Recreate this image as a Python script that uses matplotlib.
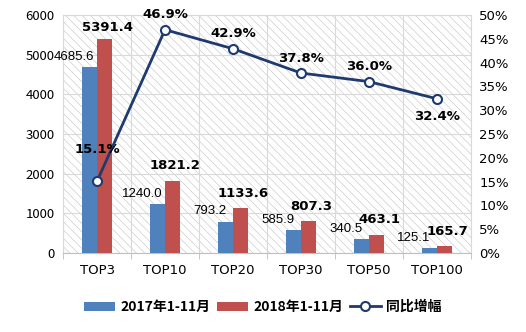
#!/usr/bin/env python3

import numpy as np
from matplotlib import pyplot as plt

plt.rcParams['font.family'] = ['Noto Sans CJK SC', 'DejaVu Sans']
plt.rcParams['hatch.linewidth'] = 0.45

cats = ['TOP3', 'TOP10', 'TOP20', 'TOP30', 'TOP50', 'TOP100']
v2017 = [4685.6, 1240.0, 793.2, 585.9, 340.5, 125.1]
v2018 = [5391.4, 1821.2, 1133.6, 807.3, 463.1, 165.7]
growth = [15.1, 46.9, 42.9, 37.8, 36.0, 32.4]
growth_up = [True, True, True, True, True, False]

lbl_2017 = '2017年1-11月'
lbl_2018 = '2018年1-11月'
lbl_growth = '同比增幅'

blue = '#4F81BD'
red = '#C0504D'
navy = '#1F3A6E'
grid_c = '#D9D9D9'


def main():
    fig = plt.figure(figsize=(5.26, 3.32), dpi=100)
    ax = fig.add_axes([0.12, 0.238, 0.775, 0.717])
    x = np.arange(len(cats))
    w = 0.22

    # hatched background
    ax.add_patch(plt.Rectangle((0, 0), 1, 1, transform=ax.transAxes, facecolor='white',
                               edgecolor='#C8C8C8', hatch='\\\\\\\\', lw=0, zorder=0))

    ax.bar(x - w/2, v2017, w, color=blue, label=lbl_2017, zorder=3)
    ax.bar(x + w/2, v2018, w, color=red, label=lbl_2018, zorder=3)

    for i in range(len(cats)):
        ax.annotate(f'{v2017[i]:.1f}', (x[i] - w/2, v2017[i]), xytext=(-11, 3),
                    textcoords='offset points', ha='center', va='bottom', fontsize=9.5,
                    family=['Liberation Sans', 'DejaVu Sans'], zorder=5)
        dy = 4 if i == 0 else 6
        ax.annotate(f'{v2018[i]:.1f}', (x[i] + w/2, v2018[i]), xytext=(2, dy),
                    textcoords='offset points', ha='center', va='bottom', fontsize=9.5,
                    fontweight='bold', family=['DejaVu Sans'], zorder=5)

    ax.set_xlim(-0.5, len(cats) - 0.5)
    ax.set_ylim(0, 6000)
    ax.set_yticks(np.arange(0, 6001, 1000))
    ax.set_xticks(x)
    ax.set_xticklabels(cats, family=['DejaVu Sans'])
    ax.set_xticks(np.arange(-0.5, len(cats), 1), minor=True)
    ax.tick_params(axis='x', which='major', length=0, pad=8, labelsize=9.5)
    ax.tick_params(axis='x', which='minor', length=4, color='#BFBFBF')
    ax.tick_params(axis='y', length=0, labelsize=9.5, pad=6)
    ax.grid(axis='y', color=grid_c, lw=0.8, zorder=1)
    ax.grid(axis='x', which='minor', color=grid_c, lw=0.8, zorder=1)
    for s in ax.spines.values():
        s.set_color(grid_c)
    ax.spines['bottom'].set_color('#BFBFBF')

    ax2 = ax.twinx()
    ax2.plot(x, growth, color=navy, lw=2, marker='o', ms=6.5, mfc='white', mec=navy,
             mew=1.5, label=lbl_growth, zorder=6)
    for i in range(len(cats)):
        if i == 0:
            off = (0, 18)
            va = 'bottom'
        elif growth_up[i]:
            off = (0, 6)
            va = 'bottom'
        else:
            off = (0, -8)
            va = 'top'
        ax2.annotate(f'{growth[i]:.1f}%', (x[i], growth[i]), xytext=off,
                     textcoords='offset points', ha='center', va=va, fontsize=9.5,
                     fontweight='bold', family=['DejaVu Sans'], zorder=7)
    ax2.set_ylim(0, 50)
    ax2.set_yticks(np.arange(0, 51, 5))
    ax2.set_yticklabels([f'{t}%' for t in range(0, 51, 5)], family=['DejaVu Sans'])
    ax2.tick_params(axis='y', length=0, labelsize=9.5, pad=6)
    for s in ax2.spines.values():
        s.set_visible(False)

    h1, l1 = ax.get_legend_handles_labels()
    h2, l2 = ax2.get_legend_handles_labels()
    fig.legend(h1 + h2, l1 + l2, loc='center', bbox_to_anchor=(0.5, 0.075), ncol=3,
               frameon=False, prop={'weight': 'bold', 'size': 10},
               handlelength=2.2, handleheight=0.6, columnspacing=0.5, handletextpad=0.4)

    plt.savefig('out.png', dpi=100)
    plt.clf()


if __name__ == '__main__':
    main()
